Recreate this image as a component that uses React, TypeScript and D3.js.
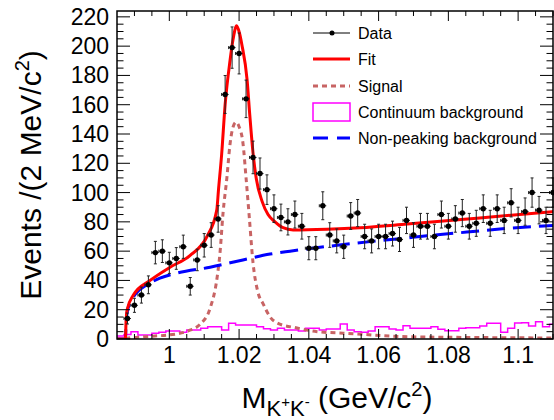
import React from "react";
import * as d3 from "d3";

// bin centres, 2 MeV bins
const binCenters = d3.range(63).map(i => +(0.986 + 0.002 * i).toFixed(3));

const dataCounts = [
  null, 14, 23, 30, 37, 59, 60, 52, 55, 63, 36, 54, 64, 71, 82,
  167, 199, 195, 164, 124, 113, 102, 89, 83, 80, 85, 77, 62, 62, 91,
  71, 67, 63, 84, 86, 70, 67, 70, 70, 72, 68, 81, 71, 77, 77,
  70, 85, 77, 82, 86, 77, 79, 89, 79, 89, 81, 93, 81, 87, 100,
  88, 81, 100,
];

const continuum = [
  2, 3, 5, 2.7, 2.7, 3.9, 4.6, 5.5, 5.5, 4.6, 6.1, 6.1, 7.3, 8.4, 8.4,
  6.1, 10.7, 9.6, 9.6, 9.6, 8.4, 7, 6.1, 7.3, 6.1, 6.1, 5.5, 7.3, 7.3, 6.1,
  6.8, 6.8, 10.2, 6.1, 5, 4.6, 5.5, 8.4, 8.4, 6.8, 6.1, 9, 7.3, 7.3, 7.3,
  8.4, 6.6, 5.7, 5.7, 7.3, 7.7, 7.7, 8.9, 10.7, 10.7, 4.6, 7.3, 11, 11.1, 8.9,
  11.8, 8.4, 10,
];

// fit curves
const fitMass = [0.985, 0.9874, 0.9876, 0.9879, 0.9897, 0.9945, 1.0002, 1.0059, 1.0108, 1.0136, 1.0141, 1.015, 1.016, 1.0174, 1.0183, 1.0193, 1.0201, 1.0208, 1.0223, 1.0231, 1.024, 1.0249, 1.0266, 1.0283, 1.0303, 1.0326, 1.0355, 1.0452, 1.0547, 1.0682, 1.0882, 1.11];
const fitValue = [0, 0, 12, 20, 30, 40, 49, 57, 70, 88, 102, 126, 160, 190, 205, 214, 209, 201, 177, 152, 127, 110, 94, 85, 80, 76, 74.5, 75, 76, 78.5, 82.5, 87];

const sigMass = [0.9874, 0.9879, 0.9925, 1.0022, 1.0059, 1.0088, 1.0117, 1.0137, 1.0145, 1.0154, 1.0165, 1.0174, 1.0183, 1.0191, 1.02, 1.0211, 1.022, 1.0229, 1.024, 1.0254, 1.0269, 1.0289, 1.0309, 1.0366, 1.0424, 1.0498, 1.069, 1.0891, 1.11];
const sigValue = [0, 0.5, 1.5, 3.5, 6, 10, 21, 42, 58, 86, 110, 133, 145, 148, 145, 134, 110, 84, 52, 32, 24, 15, 11, 7.5, 5, 4, 1.5, 1, 0.7];

const bkgMass = [0.985, 0.9874, 0.9876, 0.9879, 0.989, 0.9904, 0.9936, 0.9973, 1.0022, 1.0117, 1.0211, 1.0289, 1.0346, 1.0481, 1.0575, 1.0661, 1.0739, 1.0853, 1.0968, 1.11];
const bkgValue = [0, 0, 10, 18, 26, 31, 37, 41.5, 45, 49, 54, 58, 60, 64, 66.5, 68.5, 70.5, 73, 75.5, 77.5];

const xTicks = [1, 1.02, 1.04, 1.06, 1.08, 1.1];
const xTickLabels = ["1", "1.02", "1.04", "1.06", "1.08", "1.1"];
const yTicks = [0, 20, 40, 60, 80, 100, 120, 140, 160, 180, 200, 220];

const legendItems = ["Data", "Fit", "Signal", "Continuum background", "Non-peaking background"];

const font = "'Liberation Sans', Arial, Helvetica, sans-serif";

export default function App() {
  const W = 554, H = 420;
  const L = 117, R = 553, T = 11, B = 339;
  const x = d3.scaleLinear().domain([0.985, 1.11]).range([L, R]);
  const y = d3.scaleLinear().domain([0, 224]).range([B, T]);

  const curve = (ms: number[], vs: number[]) =>
    d3.line<number>().x((_, i) => x(ms[i])).y((_, i) => y(vs[i])).curve(d3.curveMonotoneX)(vs) || "";

  const histPts: [number, number][] = binCenters.map((c, i) => [c - 0.001, continuum[i]]);
  histPts.push([binCenters[binCenters.length - 1] + 0.001, continuum[continuum.length - 1]]);
  const histPath = d3.line<[number, number]>().x(d => x(d[0])).y(d => y(d[1])).curve(d3.curveStepAfter)(histPts) || "";

  const xMinor = d3.range(0, 25).map(i => 0.99 + 0.005 * i).filter(v => v < 1.1101);
  const yMinor = d3.range(0, 45).map(i => i * 5);

  const legY = [33, 59, 86, 112, 138];

  return (
    <svg width={W} height={H} style={{ position: "absolute", left: 0, top: 0, background: "#fff" }} fontFamily={font}>
      <defs>
        <clipPath id="frame">
          <rect x={L} y={T} width={R - L} height={B - T} />
        </clipPath>
      </defs>

      <g clipPath="url(#frame)" fill="none">
        <path d={histPath} stroke="#ff00ff" strokeWidth={1.5} />
        <path d={curve(sigMass, sigValue)} stroke="#c86464" strokeWidth={3} strokeDasharray="5,4" />
        <path d={curve(bkgMass, bkgValue)} stroke="#0000ff" strokeWidth={3} strokeDasharray="18,8" />
        <path d={curve(fitMass, fitValue)} stroke="#ff0000" strokeWidth={3} />
      </g>

      <g stroke="#222" strokeWidth={1}>
        {binCenters.map((c, i) => {
          const n = dataCounts[i];
          if (n == null) return null;
          const e = Math.sqrt(n);
          const cx = x(c), cy = y(n);
          const x0 = x(c - 0.001), x1 = Math.min(x(c + 0.001), R);
          return (
            <g key={i}>
              <line x1={cx} x2={cx} y1={y(n + e)} y2={y(n - e)} />
              <line x1={cx - 1.5} x2={cx + 1.5} y1={y(n + e)} y2={y(n + e)} />
              <line x1={cx - 1.5} x2={cx + 1.5} y1={y(n - e)} y2={y(n - e)} />
              <line x1={x0} x2={x1} y1={cy} y2={cy} />
              <line x1={x0} x2={x0} y1={cy - 1.5} y2={cy + 1.5} />
              <circle cx={cx} cy={cy} r={2.7} fill="#000" stroke="none" />
            </g>
          );
        })}
      </g>

      {/* frame and ticks */}
      <rect x={L} y={T} width={R - L} height={B - T} fill="none" stroke="#000" strokeWidth={1.5} />
      <g stroke="#000" strokeWidth={1}>
        {xMinor.map((v, i) => {
          const major = xTicks.some(t => Math.abs(t - v) < 1e-6);
          const len = major ? 10 : 5;
          return (
            <g key={i}>
              <line x1={x(v)} x2={x(v)} y1={B} y2={B - len} />
              <line x1={x(v)} x2={x(v)} y1={T} y2={T + len} />
            </g>
          );
        })}
        {yMinor.map((v, i) => {
          const major = v % 20 === 0;
          const len = major ? 13 : 6.5;
          return (
            <g key={i}>
              <line x1={L} x2={L + len} y1={y(v)} y2={y(v)} />
              <line x1={R} x2={R - len} y1={y(v)} y2={y(v)} />
            </g>
          );
        })}
      </g>

      <g fontSize={23} fill="#000">
        {xTicks.map((t, i) => (
          <text key={i} x={x(t)} y={363} textAnchor="middle">{xTickLabels[i]}</text>
        ))}
        {yTicks.map(t => (
          <text key={t} x={109} y={y(t) + 8} textAnchor="end">{t}</text>
        ))}
      </g>

      <text x={(L + R) / 2 + 2} y={408} textAnchor="middle" fontSize={30}>
        M<tspan fontSize={22} dy={8}>K</tspan><tspan fontSize={15} dy={-9}>+</tspan><tspan fontSize={22} dy={9}>K</tspan><tspan fontSize={15} dy={-9}>-</tspan><tspan dy={1}> (GeV/c</tspan><tspan fontSize={20} dy={-12}>2</tspan><tspan dy={12}>)</tspan>
      </text>

      <text transform={`translate(41,${(T + B) / 2}) rotate(-90)`} textAnchor="middle" fontSize={30}>
        Events /(2 MeV/c<tspan fontSize={20} dy={-12}>2</tspan><tspan dy={12}>)</tspan>
      </text>

      {/* legend */}
      <g>
        <line x1={313} x2={350} y1={legY[0]} y2={legY[0]} stroke="#000" strokeWidth={1} />
        <circle cx={332} cy={legY[0]} r={2.5} fill="#000" />
        <line x1={313} x2={350} y1={legY[1]} y2={legY[1]} stroke="#ff0000" strokeWidth={3} />
        <line x1={313} x2={350} y1={legY[2]} y2={legY[2]} stroke="#c86464" strokeWidth={3} strokeDasharray="5,4" />
        <rect x={313} y={legY[3] - 9} width={37} height={18} fill="none" stroke="#ff00ff" strokeWidth={1.5} />
        <line x1={313} x2={350} y1={legY[4]} y2={legY[4]} stroke="#0000ff" strokeWidth={3} strokeDasharray="15,9" />
        {legendItems.map((s, i) => (
          <text key={s} x={358} y={legY[i] + 6} fontSize={16}>{s}</text>
        ))}
      </g>
    </svg>
  );
}
